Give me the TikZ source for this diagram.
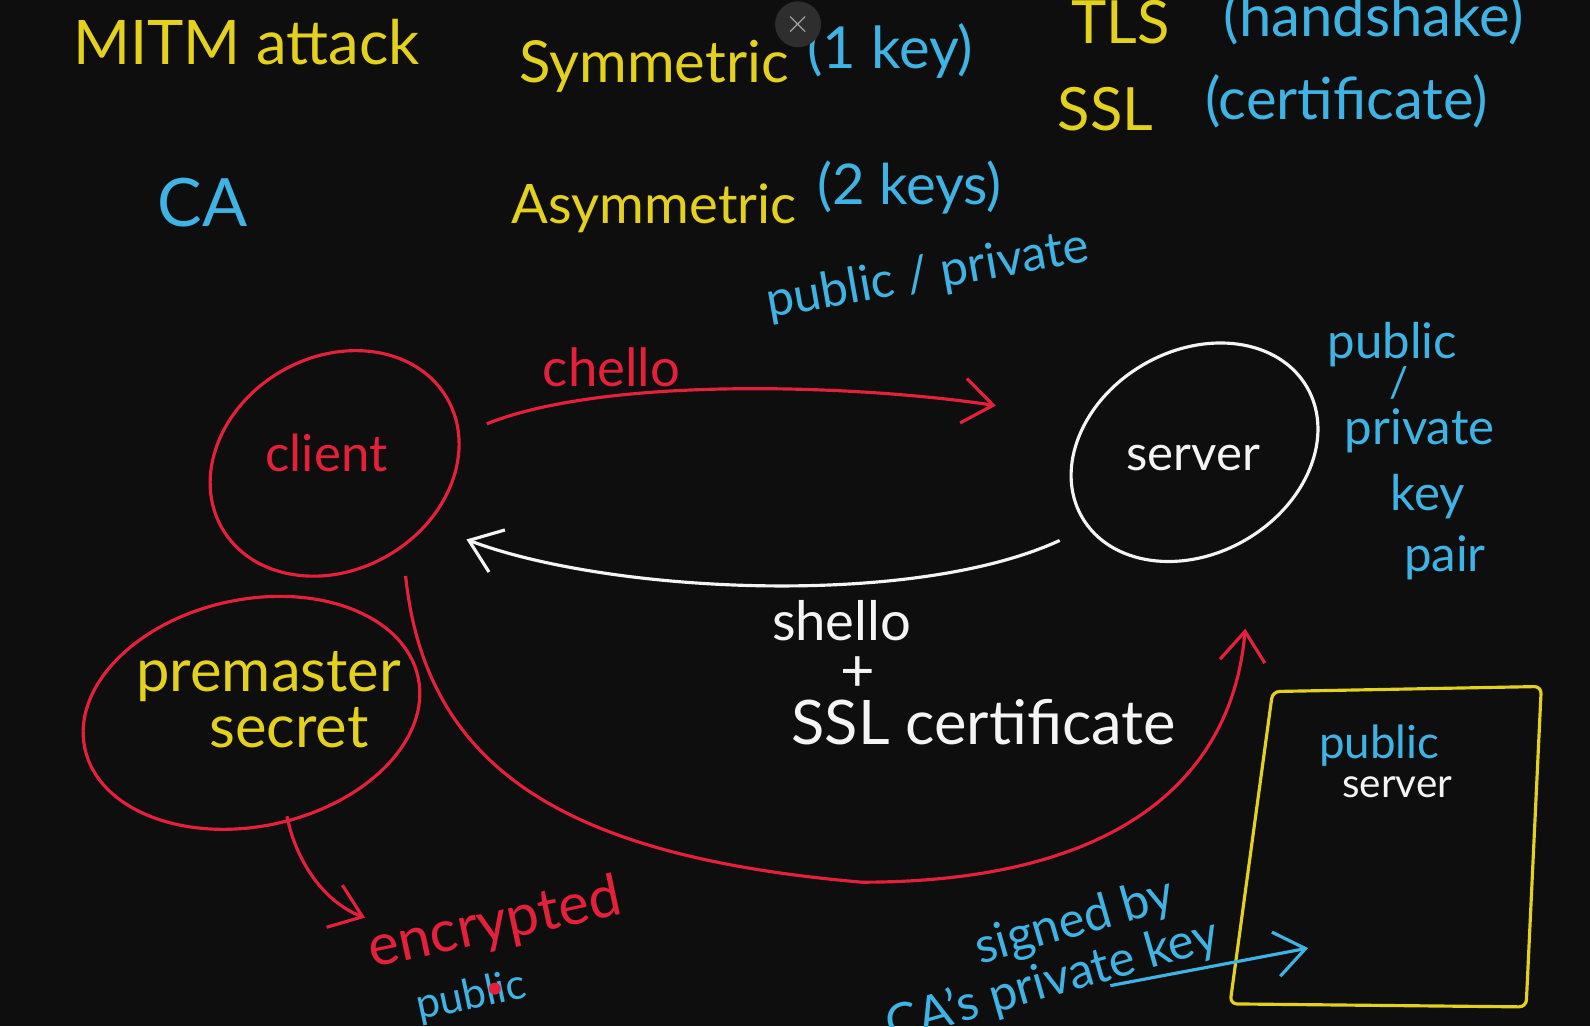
\documentclass[tikz,border=0pt]{standalone}
\usepackage{fontspec}
\setmainfont{Lato}
\usetikzlibrary{arrows.meta,positioning,shapes.geometric}
\definecolor{board}{HTML}{0E0E0E}
\definecolor{chalkY}{HTML}{E3D11E}
\definecolor{chalkB}{HTML}{3FB3E4}
\definecolor{chalkR}{HTML}{E5203A}
\definecolor{chalkW}{HTML}{F4F4F4}
\begin{document}
\begin{tikzpicture}[
x=0.01014cm,y=-0.01014cm,
txt/.style={inner sep=0pt,font=\fontsize{#1}{#1}\selectfont},
txt/.default=17,
ring/.style={ellipse,draw,line width=0.9pt,inner sep=0pt},
pen/.style={line width=0.9pt},
tip/.style={pen,-{Straight Barb[length=3mm,width=4.5mm]}}
]
\fill[board] (0,0) rectangle (1568,1012);
\useasboundingbox (0,0) rectangle (1568,1012);
% notes at the top
\node[txt=17.5,text=chalkY] (mitm) at (243,42) {MITM attack};
\node[txt=16.5,text=chalkY] (sym) at (645,65) {Symmetric};
\node[txt=16.5,text=chalkB] (onekey) at (878,50) {(1 key)};
\node[txt=17,text=chalkY] (tls) at (1105,22) {TLS};
\node[txt=16.5,text=chalkB] (hs) at (1355,18) {(handshake)};
\node[txt=17,text=chalkY] (ssl) at (1090,108) {SSL};
\node[txt=16.5,text=chalkB] (cert) at (1328,100) {(certificate)};
\node[txt=19,text=chalkB] (ca) at (200,200) {CA};
\node[txt=15.5,text=chalkY] (asym) at (645,205) {Asymmetric};
\node[txt=16,text=chalkB] (twokey) at (897,185) {(2 keys)};
\node[txt=14,text=chalkB,rotate=10] (pubpriv) at (915,272) {public / private};
\node[circle,fill=black!82,text=black!35,inner sep=0pt,minimum size=0.46cm,font=\small] (close) at (787,24) {$\times$};
% handshake
\node[ring,draw=chalkR,minimum width=2.6cm,minimum height=2.13cm,rotate=30] (clientRing) at (330,457) {};
\node[txt=14.5,text=chalkR] (client) at (322,447) {client};
\node[ring,draw=chalkW,minimum width=2.6cm,minimum height=2.03cm,rotate=30] (serverRing) at (1178,446) {};
\node[txt=14,text=chalkW] (server) at (1177,452) {server};
\node[txt=14,text=chalkB] (kpPublic) at (1373,340) {public};
\node[txt=12,text=chalkB] (kpSlash) at (1380,378) {/};
\node[txt=14,text=chalkB] (kpPrivate) at (1400,425) {private};
\node[txt=14,text=chalkB] (kpKey) at (1408,490) {key};
\node[txt=14,text=chalkB] (kpPair) at (1425,550) {pair};
\coordinate (chelloA) at (480,418);
\coordinate (chelloB) at (982,400);
\draw[tip,chalkR] (chelloA) .. controls (600,370) and (850,380) .. (chelloB);
\node[txt=15,text=chalkR] (chello) at (603,362) {chello};
\coordinate (shelloA) at (1045,533);
\coordinate (shelloB) at (460,532);
\draw[tip,chalkW] (shelloA) .. controls (900,600) and (600,585) .. (shelloB);
\node[txt=15.5,text=chalkW] (shello) at (830,612) {shello};
\node[txt=17,text=chalkW] (plus) at (846,665) {+};
\node[txt=17.5,text=chalkW] (sslcert) at (970,712) {SSL certificate};
% premaster secret
\node[ring,draw=chalkR,minimum width=3.41cm,minimum height=2.27cm,rotate=12] (pmRing) at (248,703) {};
\node[txt=17,text=chalkY] (pmTop) at (265,667) {premaster};
\node[txt=17,text=chalkY] (pmBottom) at (285,718) {secret};
\coordinate (keyA) at (400,568);
\coordinate (keyB) at (1228,620);
\draw[tip,chalkR] (keyA) .. controls (420,760) and (560,845) .. (850,870) .. controls (1100,870) and (1215,770) .. (keyB);
\coordinate (pmA) at (283,805);
\coordinate (pmB) at (360,905);
\draw[tip,chalkR] (pmA) .. controls (292,850) and (320,890) .. (pmB);
\node[txt=16.5,text=chalkR,rotate=12] (enc) at (488,912) {encrypted};
\node[txt=12,text=chalkB,rotate=12] (pubsmall) at (465,983) {public};
\fill[chalkR] (488,975) circle (0.6mm);
% certificate
\draw[chalkY,pen,rounded corners=2pt] (1255,682) -- (1520,677) -- (1505,993) -- (1213,990) -- cycle;
\node[txt=13,text=chalkB] (boxpub) at (1360,735) {public};
\node[txt=11.5,text=chalkW] (boxsrv) at (1378,776) {server};
\node[txt=14,text=chalkB,rotate=16] (signed) at (1060,910) {signed by};
\node[txt=14,text=chalkB,rotate=16] (capriv) at (1038,968) {CA's private key};
\coordinate (signA) at (1095,972);
\coordinate (signB) at (1290,935);
\draw[tip,chalkB] (signA) -- (signB);
\end{tikzpicture}
\end{document}
